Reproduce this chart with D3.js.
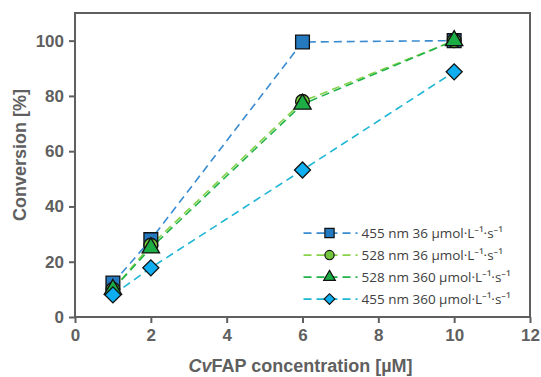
<!DOCTYPE html>
<html>
<head>
<meta charset="utf-8">
<script src="https://cdn.jsdelivr.net/npm/d3@7"></script>
<style>
  body { margin: 0; background: #fff; }
  svg { display: block; }
</style>
</head>
<body>
<div id="chart"></div>
<script>
// data
const concentrations = [1, 2, 6, 10];
const blue36 = [12.3, 28, 99.5, 100];
const green36 = [10, 26, 78, 100];
const green360 = [10, 25, 77, 100];
const blue360 = [8, 17.8, 53.2, 88.7];
const seriesNames = [
  "455 nm 36 \u00b5mol\u00b7L\u207b\u00b9\u00b7s\u207b\u00b9",
  "528 nm 36 \u00b5mol\u00b7L\u207b\u00b9\u00b7s\u207b\u00b9",
  "528 nm 360 \u00b5mol\u00b7L\u207b\u00b9\u00b7s\u207b\u00b9",
  "455 nm 360 \u00b5mol\u00b7L\u207b\u00b9\u00b7s\u207b\u00b9"
];
const xTicks = [0, 2, 4, 6, 8, 10, 12];
const yTicks = [0, 20, 40, 60, 80, 100];

// diamond = square turned by 45 degrees
const series = [
  { name: seriesNames[0], values: blue36, line: "#3a8cd0", fill: "#2479bf", shape: d3.symbolSquare, size: 190, rot: 0 },
  { name: seriesNames[1], values: green36, line: "#86d24a", fill: "#72c53c", shape: d3.symbolCircle, size: 150, rot: 0 },
  { name: seriesNames[2], values: green360, line: "#22b34a", fill: "#1cad45", shape: d3.symbolTriangle, size: 130, rot: 0 },
  { name: seriesNames[3], values: blue360, line: "#1db6d4", fill: "#0eaef0", shape: d3.symbolSquare, size: 128, rot: 45 }
];

const W = 541, H = 377;
const margin = { top: 13, right: 11, bottom: 60, left: 75 };
const width = W - margin.left - margin.right;
const height = H - margin.top - margin.bottom;
const axisColor = "#5f5f5f";
const font = "'Liberation Sans', Arial, sans-serif";

const svg = d3.select("#chart").append("svg")
  .attr("width", W).attr("height", H);
const g = svg.append("g")
  .attr("transform", "translate(" + margin.left + "," + margin.top + ")");

const x = d3.scaleLinear().domain([0, 12]).range([0, width]);
const y = d3.scaleLinear().domain([0, 110]).range([height, 0]);

// frame
g.append("rect")
  .attr("width", width).attr("height", height)
  .attr("fill", "none").attr("stroke", axisColor).attr("stroke-width", 2);

// axes
const xAxis = g.append("g")
  .attr("transform", "translate(0," + height + ")")
  .call(d3.axisBottom(x).tickValues(xTicks).tickSize(6).tickPadding(6));
const yAxis = g.append("g")
  .call(d3.axisLeft(y).tickValues(yTicks).tickSize(6).tickPadding(5));

[xAxis, yAxis].forEach(a => {
  a.select(".domain").remove();
  a.selectAll("line").attr("stroke", axisColor).attr("stroke-width", 2);
  a.selectAll("text")
    .attr("fill", axisColor)
    .style("font-family", font)
    .style("font-size", "17px")
    .style("font-weight", "bold");
});

// axis titles
g.append("text")
  .attr("transform", "rotate(-90)")
  .attr("x", -height / 2 + 10)
  .attr("y", -margin.left + 26)
  .attr("text-anchor", "middle")
  .attr("fill", axisColor)
  .style("font-family", font).style("font-size", "18px").style("font-weight", "bold")
  .text("Conversion [%]");

const xt = g.append("text")
  .attr("x", width / 2 - 2)
  .attr("y", height + 55)
  .attr("text-anchor", "middle")
  .attr("fill", axisColor)
  .style("font-family", font).style("font-size", "18px").style("font-weight", "bold");
xt.append("tspan").style("font-style", "italic").text("Cv");
xt.append("tspan").text("FAP concentration [\u00b5M]");

// lines and markers
const line = d3.line()
  .x((d, i) => x(concentrations[i]))
  .y(d => y(d));

series.forEach(s => {
  g.append("path")
    .datum(s.values)
    .attr("d", line)
    .attr("fill", "none")
    .attr("stroke", s.line)
    .attr("stroke-width", 1.6)
    .attr("stroke-dasharray", "8,5");
});

series.forEach(s => {
  g.selectAll(null)
    .data(s.values)
    .enter()
    .append("path")
    .attr("d", d3.symbol().type(s.shape).size(s.size))
    .attr("transform", (d, i) => "translate(" + x(concentrations[i]) + "," + y(d) + ") rotate(" + s.rot + ")")
    .attr("fill", s.fill)
    .attr("stroke", "#111")
    .attr("stroke-width", 1.3);
});

// legend
const legend = g.append("g")
  .attr("transform", "translate(" + (x(6) + 1) + "," + (y(30) - 1) + ")");
series.forEach((s, i) => {
  const row = legend.append("g").attr("transform", "translate(0," + (i * 22) + ")");
  row.append("line")
    .attr("x1", 0).attr("x2", 54)
    .attr("stroke", s.line).attr("stroke-width", 1.6)
    .attr("stroke-dasharray", "8,5");
  row.append("path")
    .attr("d", d3.symbol().type(s.shape).size(s.size * 0.45))
    .attr("transform", "translate(26,0) rotate(" + s.rot + ")")
    .attr("fill", s.fill)
    .attr("stroke", "#111")
    .attr("stroke-width", 1.2);
  row.append("text")
    .attr("x", 58).attr("y", 0).attr("dy", "0.35em")
    .attr("fill", "#404040")
    .style("font-family", "'Open Sans', 'Noto Sans', sans-serif")
    .style("font-size", "13.5px")
    .text(s.name);
});
</script>
</body>
</html>
